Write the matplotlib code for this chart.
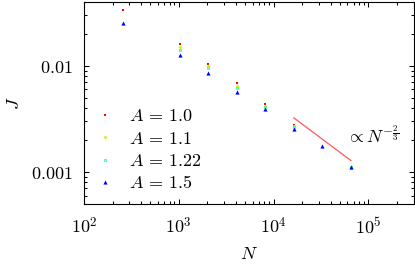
import matplotlib
matplotlib.use("Agg")
import matplotlib.pyplot as plt
import numpy as np
from matplotlib.ticker import LogLocator, FixedLocator, FixedFormatter, NullFormatter

plt.rcParams['mathtext.fontset'] = 'cm'
plt.rcParams['font.family'] = ['DejaVu Serif']

labels = [r"$A\,=\,1.0$", r"$A\,=\,1.1$", r"$A\,=\,1.22$", r"$A\,=\,1.5$"]
N_10 = [256, 1024, 2048, 4096, 8192, 16384, 65536]
J_10 = [0.0334, 0.01585, 0.0104, 0.00682, 0.00435, 0.00279, 0.00109]
N_11 = [1024, 2048, 4096, 8192, 16384, 65536]
J_11 = [0.0150, 0.0100, 0.00647, 0.00421, 0.00273, 0.00110]
N_122 = [1024, 2048, 4096, 8192, 16384, 65536]
J_122 = [0.0142, 0.00951, 0.00616, 0.00408, 0.00267, 0.00111]
N_15 = [256, 1024, 2048, 4096, 8192, 16384, 32768, 65536]
J_15 = [0.0251, 0.0126, 0.00859, 0.00569, 0.00391, 0.00256, 0.00175, 0.001114]

fit_N = [16384, 65536]
fit_J0 = 0.00323
fit_exp = -2.0 / 3.0

FS = 13

fig = plt.figure(figsize=(4.15, 2.64), dpi=100)
ax = fig.add_axes([84/415, 1 - 204/264, (413.5-84)/415, (204-1.7)/264])

ax.plot(N_10, J_10, linestyle='none', marker='s', ms=1.7, color=(1, 0, 0), mew=0, label=labels[0])
ax.plot(N_11, J_11, linestyle='none', marker='D', ms=2.0, color=(0.75, 1, 0), mew=0, label=labels[1])
ax.plot(N_122, J_122, linestyle='none', marker='s', ms=1.9, mfc=(0.6, 1, 0.85), mec=(0.15, 0.95, 0.65), mew=0.5, label=labels[2])
ax.plot(N_15, J_15, linestyle='none', marker='^', ms=3.0, color=(0, 0, 1), mew=0, label=labels[3])

fN = np.array(fit_N, dtype=float)
ax.plot(fN, fit_J0 * (fN / fN[0]) ** fit_exp, color=(1, 0.35, 0.35), lw=0.9)
ax.text(5.8e4, 0.00217, r'$\propto N^{-\frac{2}{3}}$', fontsize=FS, ha='left', va='center')

ax.set_xscale('log')
ax.set_yscale('log')
ax.set_xlim(100, 3e5)
ax.set_ylim(0.0005, 0.04)

ax.xaxis.set_major_locator(FixedLocator([1e2, 1e3, 1e4, 1e5]))
ax.xaxis.set_major_formatter(FixedFormatter([r'$10^2$', r'$10^3$', r'$10^4$', r'$10^5$']))
ax.xaxis.set_minor_locator(LogLocator(base=10, subs=np.arange(2, 10)))
ax.xaxis.set_minor_formatter(NullFormatter())
ax.yaxis.set_major_locator(FixedLocator([0.001, 0.01]))
ax.yaxis.set_major_formatter(FixedFormatter([r'$0.001$', r'$0.01$']))
ax.yaxis.set_minor_locator(LogLocator(base=10, subs=np.arange(2, 10)))
ax.yaxis.set_minor_formatter(NullFormatter())

ax.tick_params(which='both', direction='in', top=True, right=True, width=0.75, labelsize=FS)
ax.tick_params(which='major', length=3.6)
ax.tick_params(which='minor', length=2.0)
ax.tick_params(axis='x', which='major', pad=9.5)
ax.tick_params(axis='y', which='major', pad=8)
for s in ax.spines.values():
    s.set_linewidth(0.8)

ax.set_xlabel('$N$', fontsize=FS, labelpad=5.5)
ax.set_ylabel('$J$', fontsize=FS, labelpad=6)

leg = ax.legend(loc='lower left', frameon=False, fontsize=FS, handlelength=1.0,
                handletextpad=0.83, labelspacing=0.24, borderaxespad=0.25,
                borderpad=0.4)

fig.savefig('out.png', dpi=100)
